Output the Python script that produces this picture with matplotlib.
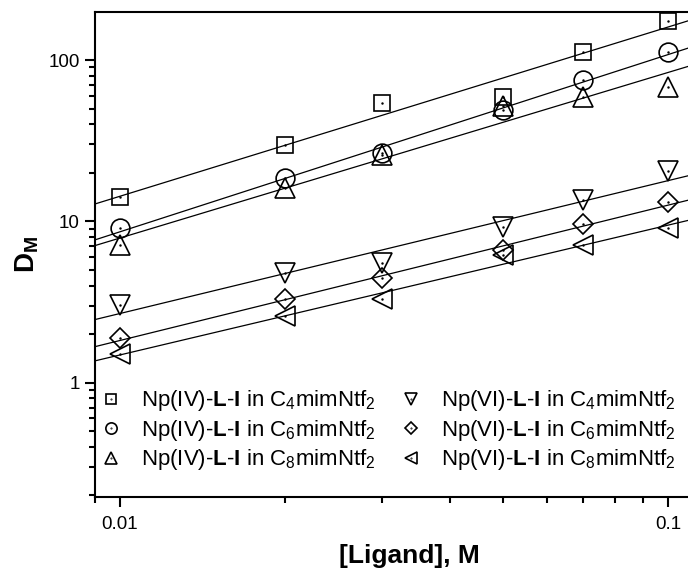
import numpy as np
import matplotlib
matplotlib.use("Agg")
import matplotlib.pyplot as plt
from matplotlib import ticker
from matplotlib.legend_handler import HandlerTuple

plt.rcParams["font.family"] = ["Liberation Sans", "DejaVu Sans"]
plt.rcParams["mathtext.fontset"] = "custom"
plt.rcParams["mathtext.rm"] = "Liberation Sans"
plt.rcParams["mathtext.it"] = "Liberation Sans:italic"
plt.rcParams["mathtext.bf"] = "Liberation Sans:bold"

# концентрация лиганда, M
ligand = [0.01, 0.02, 0.03, 0.05, 0.07, 0.1]

# D_M для каждой серии
np4_c4 = [14.1, 29.7, 53.9, 59.3, 112.6, 175]
np4_c6 = [9.05, 18.5, 26.4, 49, 75.2, 112.6]
np4_c8 = [7.1, 16.1, 25.8, 51.9, 59.2, 68.3]
np6_c4 = [3.03, 4.76, 5.5, 9.26, 13.5, 20.6]
np6_c6 = [1.88, 3.28, 4.45, 6.6, 9.6, 13.1]
np6_c8 = [1.5, 2.59, 3.28, 6.2, 7.1, 9.05]

labels = [
    r"Np(IV)-$\mathbf{L}$-$\mathbf{I}$ in C$_4$mimNtf$_2$",
    r"Np(IV)-$\mathbf{L}$-$\mathbf{I}$ in C$_6$mimNtf$_2$",
    r"Np(IV)-$\mathbf{L}$-$\mathbf{I}$ in C$_8$mimNtf$_2$",
    r"Np(VI)-$\mathbf{L}$-$\mathbf{I}$ in C$_4$mimNtf$_2$",
    r"Np(VI)-$\mathbf{L}$-$\mathbf{I}$ in C$_6$mimNtf$_2$",
    r"Np(VI)-$\mathbf{L}$-$\mathbf{I}$ in C$_8$mimNtf$_2$",
]
series = [np4_c4, np4_c6, np4_c8, np6_c4, np6_c6, np6_c8]
markers = ["s", "o", "^", "v", "D", "<"]
sizes = [12, 13.5, 14, 14, 10.5, 14]

fig = plt.figure(figsize=(6.88, 5.75), dpi=100)
ax = fig.add_axes([0.138, 0.136, 0.913, 0.843])
ax.set_xscale("log")
ax.set_yscale("log")
xlim = (0.009, 0.1258)
ax.set_xlim(*xlim)
ax.set_ylim(0.196, 198.3)

x = np.array(ligand)
xx = np.array(xlim)
handles = []
for y, m, ms in zip(series, markers, sizes):
    y = np.array(y)
    # линейная аппроксимация в лог-лог координатах
    k, b = np.polyfit(np.log10(x), np.log10(y), 1)
    ax.plot(xx, 10 ** (k * np.log10(xx) + b), color="black", lw=0.9, zorder=2)
    h1, = ax.plot(x, y, ls="none", marker=m, ms=ms, mfc="none", mec="black",
                  mew=1.2, zorder=3)
    h2, = ax.plot(x, y, ls="none", marker=".", ms=1.5, color="black", zorder=4)
    handles.append((h1, h2))

ax.legend(handles, labels, ncol=2, frameon=False, loc="upper left",
          bbox_to_anchor=(0.132, 0.340), bbox_transform=fig.transFigure,
          fontsize=16, markerscale=0.6, handlelength=1.0, handletextpad=0.85,
          columnspacing=1.12, labelspacing=0.2, borderaxespad=0,
          handler_map={tuple: HandlerTuple(ndivide=1)})

ax.xaxis.set_major_formatter(ticker.FormatStrFormatter("%g"))
ax.yaxis.set_major_formatter(ticker.FormatStrFormatter("%g"))
ax.xaxis.set_minor_formatter(ticker.NullFormatter())
ax.yaxis.set_minor_formatter(ticker.NullFormatter())
ax.tick_params(which="major", direction="out", length=7, width=1.5,
               labelsize=13.5, pad=4)
ax.tick_params(axis="x", which="major", pad=7)
ax.tick_params(which="minor", direction="out", length=4, width=1.5)
for s in ax.spines.values():
    s.set_linewidth(1.5)

ax.set_xlabel("[Ligand], M", fontsize=19, fontweight="bold", labelpad=8)
ax.set_ylabel(r"$\mathbf{D_M}$", fontsize=20, labelpad=5)

fig.savefig("out.png", dpi=100)
